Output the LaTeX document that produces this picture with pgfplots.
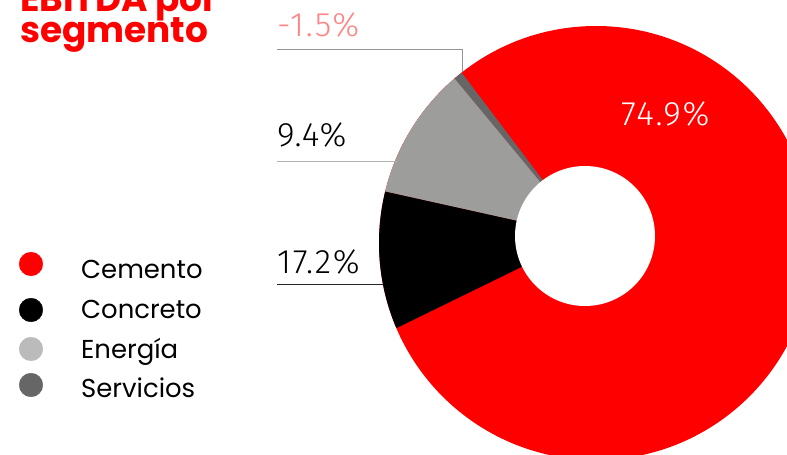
\documentclass[border=0pt]{standalone}
\usepackage{fontspec}
\setmainfont{Poppins}
\newfontfamily\lightfont{Fira Sans Light}[LetterSpace=5]
\usepackage{pgfplots}
\pgfplotsset{compat=1.18}
\usetikzlibrary{calc}
\definecolor{cRed}{HTML}{FF0000}
\definecolor{cGray}{HTML}{9D9D9C}
\definecolor{cServ}{HTML}{666666}
\definecolor{cLeg}{HTML}{BBBBBB}
\definecolor{cPink}{HTML}{FF8585}
\begin{document}
\begin{tikzpicture}
\useasboundingbox (0,0) rectangle (787bp,455bp);
\clip (0,0) rectangle (787bp,455bp);
\begin{axis}[x=1bp, y=1bp, xmin=0, xmax=787, ymin=0, ymax=455,
  hide axis, clip=true, anchor=south west, at={(0,0)}]
% donut: full ring in Cemento red, other slices (start/end angle in degrees) on top
\fill[cRed] (axis cs:596,212) circle[radius=217bp];
% Servicios (-1.5%)
\fill[cServ] (axis cs:585,219) -- ($(axis cs:596,212)+(128.25:217bp)$)
  arc[start angle=128.25, end angle=130.7, radius=217bp] -- cycle;
% Energia (9.4%)
\fill[cGray] (axis cs:585,219) -- ($(axis cs:596,212)+(130.7:217bp)$)
  arc[start angle=130.7, end angle=166.3, radius=217bp] -- cycle;
% Concreto (17.2%)
\fill[black] (axis cs:585,219) -- ($(axis cs:596,212)+(166.3:217bp)$)
  arc[start angle=166.3, end angle=203.1, radius=217bp] -- cycle;
% hole
\fill[white] (axis cs:585,219) circle[radius=70bp];
% leader lines
\draw[color=gray!85, line width=0.9pt] (axis cs:277,406) -- (axis cs:462,406) -- (axis cs:462,383);
\draw[color=gray!60, line width=0.9pt] (axis cs:277,294) -- (axis cs:397,294);
\draw[color=black!85, line width=0.9pt] (axis cs:277,171) -- (axis cs:383,171);
% value labels
\node[anchor=base west, inner sep=0, text=cPink, font=\lightfont\fontsize{34}{38}\selectfont] at (axis cs:277,418) {-1.5\%};
\node[anchor=base west, inner sep=0, text=black, font=\lightfont\fontsize{34}{38}\selectfont] at (axis cs:277,309) {9.4\%};
\node[anchor=base west, inner sep=0, text=black, font=\lightfont\fontsize{34}{38}\selectfont] at (axis cs:277,182) {17.2\%};
\node[anchor=base west, inner sep=0, text=white, font=\lightfont\fontsize{34}{38}\selectfont] at (axis cs:621,330) {74.9\%};
% title
\node[anchor=base west, inner sep=0, text=cRed, font=\bfseries\fontsize{36}{36}\selectfont] at (axis cs:20,443) {EBITDA por};
\node[anchor=base west, inner sep=0, text=cRed, font=\bfseries\fontsize{36}{36}\selectfont] at (axis cs:20,412) {segmento};
% legend markers
\addplot[color=cRed, only marks, mark=*, mark size=11.8bp] coordinates {(31,191)};
\addplot[color=black, only marks, mark=*, mark size=11.8bp] coordinates {(31,145)};
\addplot[color=cLeg, only marks, mark=*, mark size=11.8bp] coordinates {(31,106)};
\addplot[color=cServ, only marks, mark=*, mark size=11.8bp] coordinates {(31,70)};
% legend texts
\node[anchor=base west, inner sep=0, font=\fontsize{26}{30}\selectfont] at (axis cs:81,177) {Cemento};
\node[anchor=base west, inner sep=0, font=\fontsize{26}{30}\selectfont] at (axis cs:81,137) {Concreto};
\node[anchor=base west, inner sep=0, font=\fontsize{26}{30}\selectfont] at (axis cs:81,97) {Energía};
\node[anchor=base west, inner sep=0, font=\fontsize{26}{30}\selectfont] at (axis cs:81,58) {Servicios};
\end{axis}
\end{tikzpicture}
\end{document}
